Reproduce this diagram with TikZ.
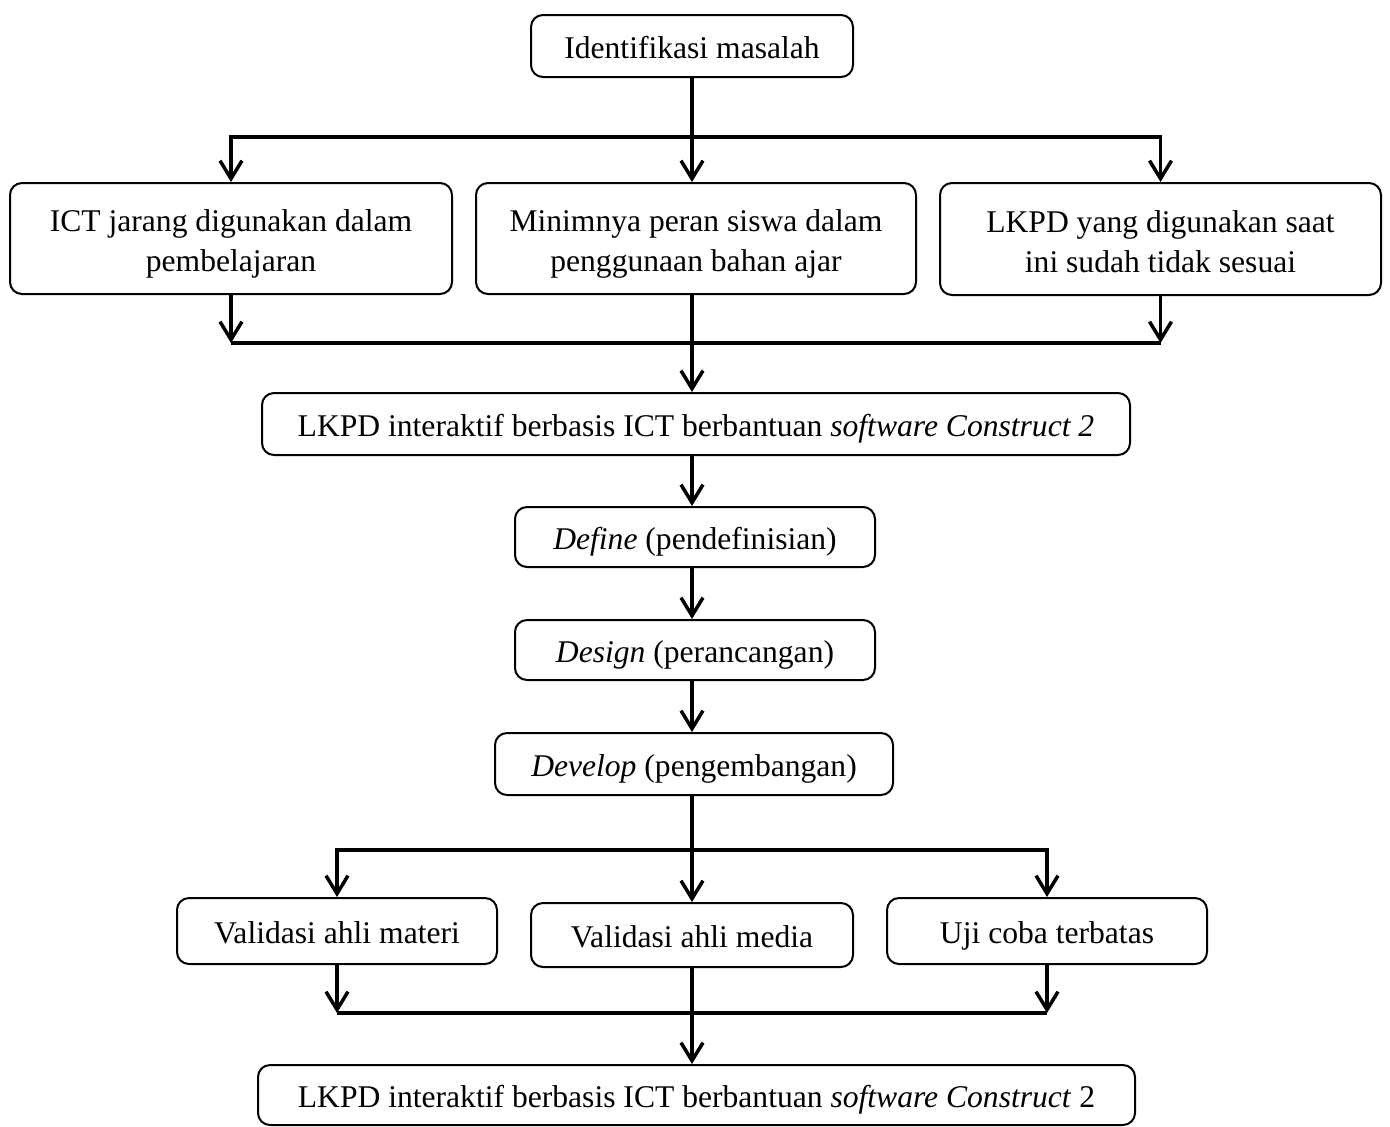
\documentclass[tikz,border=0pt]{standalone}
\usepackage{fontspec}
\setmainfont{Liberation Serif}
\usetikzlibrary{arrows.meta}
\newcommand{\px}{0.5pt}
\newcommand{\upstrut}{\rule{0pt}{18pt}}
\newcommand{\downstrut}{\rule[-5pt]{0pt}{5pt}}

\begin{document}
\begin{tikzpicture}[x=\px, y=-\px,
    box/.style={draw, rectangle, rounded corners=6pt, line width=1pt, align=center, inner sep=0pt, font=\fontsize{15.8}{20}\selectfont},
    single/.style={box, text height=14pt, text depth=2pt},
    line/.style={line width=1.75pt},
    arr/.style={line width=1.75pt, -{Straight Barb[length=9pt, width=11pt]}}]
    \useasboundingbox (0,0) rectangle (1390,1126);

    % Top
    \node[single, minimum width=322*\px, minimum height=62*\px] (masalah) at (692,46) {Identifikasi masalah};

    % Problems
    \node[box, minimum width=442*\px, minimum height=111*\px] (ict) at (231,238.5) {\upstrut ICT jarang digunakan dalam\\pembelajaran\downstrut};
    \node[box, minimum width=440*\px, minimum height=111*\px] (peran) at (696,238.5) {\upstrut Minimnya peran siswa dalam\\penggunaan bahan ajar\downstrut};
    \node[box, minimum width=441*\px, minimum height=112*\px] (lkpdlama) at (1160.5,239) {\upstrut LKPD yang digunakan saat\\ini sudah tidak sesuai\downstrut};

    % Product and steps
    \node[single, minimum width=868*\px, minimum height=62*\px] (produk) at (696,424) {LKPD interaktif berbasis ICT berbantuan \textit{software Construct 2}};
    \node[single, minimum width=360*\px, minimum height=60*\px] (define) at (695,537) {\textit{Define} (pendefinisian)};
    \node[single, minimum width=360*\px, minimum height=60*\px] (design) at (695,650) {\textit{Design} (perancangan)};
    \node[single, minimum width=398*\px, minimum height=62*\px] (develop) at (694,764) {\textit{Develop} (pengembangan)};

    % Validation
    \node[single, minimum width=320*\px, minimum height=66*\px] (materi) at (337,931) {Validasi ahli materi};
    \node[single, minimum width=322*\px, minimum height=64*\px] (media) at (692,935) {Validasi ahli media};
    \node[single, minimum width=320*\px, minimum height=66*\px] (uji) at (1047,931) {Uji coba terbatas};

    % Final product
    \node[single, minimum width=877*\px, minimum height=60*\px] (akhir) at (696.5,1095) {LKPD interaktif berbasis ICT berbantuan \textit{software Construct} 2};

    % Connectors
    \coordinate (split1) at (692,137);
    \coordinate (join1) at (692,343);
    \coordinate (split2) at (692,850);
    \coordinate (join2) at (692,1013);

    \draw[arr] (masalah.south -| split1) -- (split1 |- peran.north);
    \draw[arr] (split1) -| (ict.north);
    \draw[arr] (split1) -| (lkpdlama.north);

    \draw[arr] (ict.south) -- (ict.south |- join1);
    \draw[arr] (lkpdlama.south) -- (lkpdlama.south |- join1);
    \draw[line] (ict.south |- join1) -- (lkpdlama.south |- join1);
    \draw[arr] (join1 |- peran.south) -- (join1 |- produk.north);

    \draw[arr] (produk.south -| split1) -- (split1 |- define.north);
    \draw[arr] (define.south -| split1) -- (split1 |- design.north);
    \draw[arr] (design.south -| split1) -- (split1 |- develop.north);

    \draw[arr] (develop.south -| split2) -- (split2 |- media.north);
    \draw[arr] (split2) -| (materi.north);
    \draw[arr] (split2) -| (uji.north);

    \draw[arr] (materi.south) -- (materi.south |- join2);
    \draw[arr] (uji.south) -- (uji.south |- join2);
    \draw[line] (materi.south |- join2) -- (uji.south |- join2);
    \draw[arr] (join2 |- media.south) -- (join2 |- akhir.north);

\end{tikzpicture}
\end{document}
